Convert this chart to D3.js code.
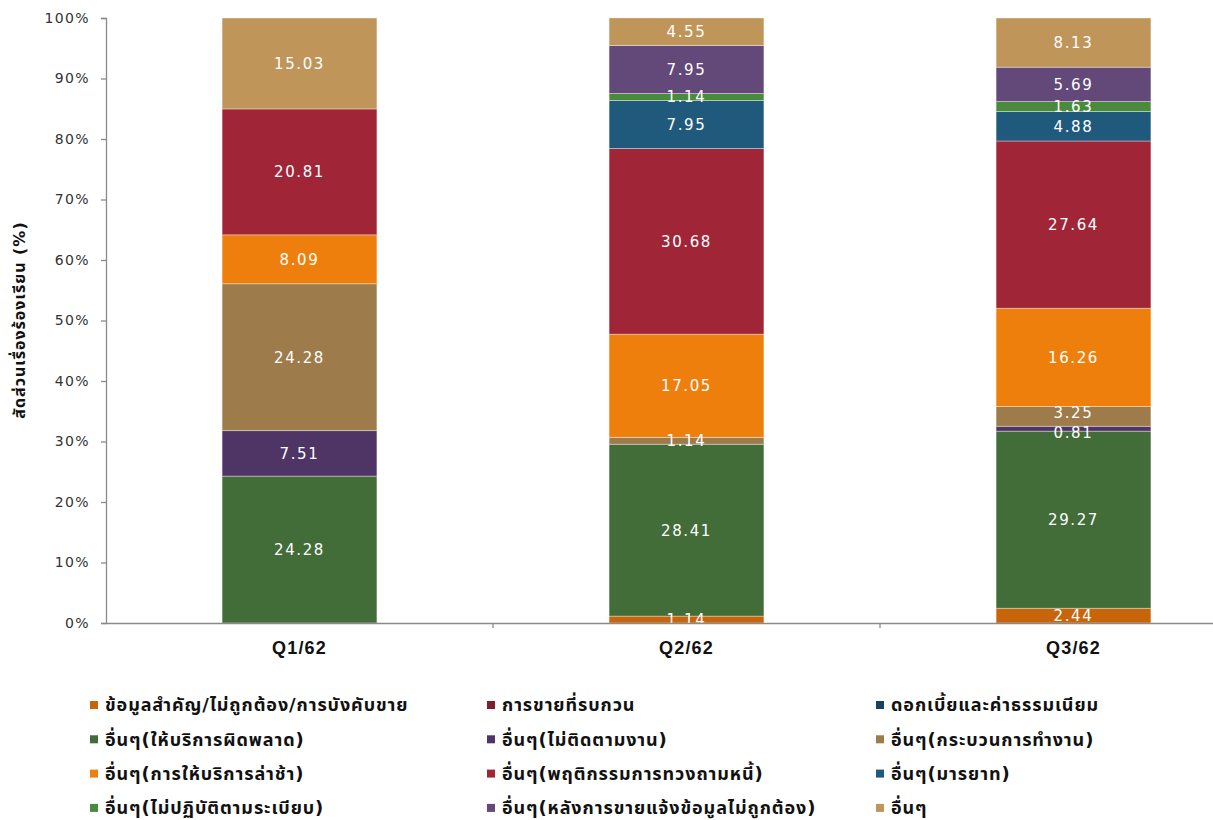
<!DOCTYPE html>
<html>
<head>
<meta charset="utf-8">
<script src="https://cdn.jsdelivr.net/npm/d3@7"></script>
<style>
  html, body { margin: 0; padding: 0; background: #fff; }
  svg { display: block; font-family: "DejaVu Sans", "Noto Sans Thai", "Noto Sans", sans-serif; }
</style>
</head>
<body>
<svg id="chart" width="1213" height="820"></svg>
<script>
// ---- data ----
const categories = ["Q1/62", "Q2/62", "Q3/62"];
const seriesNames = [
  "ข้อมูลสำคัญ/ไม่ถูกต้อง/การบังคับขาย",
  "การขายที่รบกวน",
  "ดอกเบี้ยและค่าธรรมเนียม",
  "อื่นๆ(ให้บริการผิดพลาด)",
  "อื่นๆ(ไม่ติดตามงาน)",
  "อื่นๆ(กระบวนการทำงาน)",
  "อื่นๆ(การให้บริการล่าช้า)",
  "อื่นๆ(พฤติกรรมการทวงถามหนี้)",
  "อื่นๆ(มารยาท)",
  "อื่นๆ(ไม่ปฏิบัติตามระเบียบ)",
  "อื่นๆ(หลังการขายแจ้งข้อมูลไม่ถูกต้อง)",
  "อื่นๆ"
];
const seriesColors = [
  "#c8650a", "#7f1d2b", "#1b3f5e", "#426c38", "#4f3566", "#9d7b4a",
  "#ef7f0d", "#a02637", "#1f5a7d", "#4a8a3c", "#62497a", "#c0955a"
];
// values per series: [Q1, Q2, Q3]
const v_info      = [0,     1.14,  2.44];
const v_disturb   = [0,     0,     0];
const v_interest  = [0,     0,     0];
const v_error     = [24.28, 28.41, 29.27];
const v_nofollow  = [7.51,  0,     0.81];
const v_process   = [24.28, 1.14,  3.25];
const v_delay     = [8.09,  17.05, 16.26];
const v_debt      = [20.81, 30.68, 27.64];
const v_manner    = [0,     7.95,  4.88];
const v_rules     = [0,     1.14,  1.63];
const v_aftersale = [0,     7.95,  5.69];
const v_other     = [15.03, 4.55,  8.13];
const seriesValues = [v_info, v_disturb, v_interest, v_error, v_nofollow, v_process,
                      v_delay, v_debt, v_manner, v_rules, v_aftersale, v_other];
const yTicks = [0, 10, 20, 30, 40, 50, 60, 70, 80, 90, 100];
const yTitle = "สัดส่วนเรื่องร้องเรียน (%)";

// ---- build table ----
const keys = seriesNames.map((d, i) => "s" + i);
const table = categories.map((c, ci) => {
  const row = { cat: c };
  keys.forEach((k, si) => row[k] = seriesValues[si][ci]);
  return row;
});
const stacked = d3.stack().keys(keys)(table);

const svg = d3.select("#chart");
const mLeft = 106, mRight = 1267, mTop = 18, mBottom = 623;

const x = d3.scaleBand().domain(categories).range([mLeft, mRight])
  .paddingInner(0.6).paddingOuter(0.3);
const y = d3.scaleLinear().domain([0, 100]).range([mBottom, mTop]);
const color = d3.scaleOrdinal().domain(keys).range(seriesColors);

// bars
const layer = svg.append("g").selectAll("g").data(stacked).join("g")
  .attr("fill", d => color(d.key));
layer.selectAll("rect").data(d => d.filter(p => p[1] - p[0] > 0)).join("rect")
  .attr("x", d => x(d.data.cat))
  .attr("width", x.bandwidth())
  .attr("y", d => y(d[1]))
  .attr("height", d => y(d[0]) - y(d[1]))
  .attr("stroke", "rgba(255,255,255,0.45)")
  .attr("stroke-width", 0.8);

// labels (with simple de-overlap per column)
const labels = svg.append("g");
const minGap = 20;
categories.forEach((c, ci) => {
  const items = [];
  stacked.forEach(s => {
    const p = s[ci];
    if (p[1] - p[0] > 0) items.push({ p, cy: (y(p[0]) + y(p[1])) / 2 });
  });
  items.sort((a, b) => b.cy - a.cy); // bottom to top
  for (let k = 1; k < items.length; k++) {
    const d = items[k - 1].cy - items[k].cy;
    if (d < minGap) {
      const shift = (minGap - d) / 2;
      items[k - 1].cy += shift;
      items[k].cy -= shift;
    }
  }
  items.forEach(it => {
    labels.append("text")
      .attr("x", x(c) + x.bandwidth() / 2)
      .attr("y", it.cy)
      .attr("dy", "0.36em")
      .attr("text-anchor", "middle")
      .attr("fill", "#fff")
      .attr("font-size", 15)
      .attr("letter-spacing", 1.6)
      .text(d3.format(".2f")(it.p[1] - it.p[0]));
  });
});

// y axis
const yAxis = svg.append("g").attr("transform", `translate(${mLeft},0)`)
  .call(d3.axisLeft(y).tickValues(yTicks).tickFormat(d => d + "%").tickSize(5).tickPadding(11));
yAxis.select(".domain").attr("stroke", "#8a8a8a").attr("stroke-width", 1.3);
yAxis.selectAll(".tick line").attr("stroke", "#8a8a8a").attr("stroke-width", 1.3);
yAxis.selectAll(".tick text").attr("font-size", 14).attr("fill", "#333")
  .attr("letter-spacing", 1.4).attr("font-family", "'DejaVu Sans', sans-serif");

// x axis
const xAxis = svg.append("g").attr("transform", `translate(0,${mBottom})`)
  .call(d3.axisBottom(x).tickSize(0).tickPadding(18));
xAxis.select(".domain").attr("stroke", "#8a8a8a").attr("stroke-width", 1.3);
xAxis.selectAll(".tick text").attr("font-size", 18).attr("font-weight", "bold")
  .attr("fill", "#111").attr("letter-spacing", 1.2);
const step = x.step();
const bounds = d3.range(1, categories.length).map(i => x(categories[i]) - (step - x.bandwidth()) / 2);
xAxis.selectAll("line.bound").data(bounds).join("line").attr("class", "bound")
  .attr("x1", d => d).attr("x2", d => d).attr("y1", 0).attr("y2", 5)
  .attr("stroke", "#8a8a8a").attr("stroke-width", 1.3);

// y title
svg.append("text")
  .attr("transform", `translate(25,320) rotate(-90)`)
  .attr("text-anchor", "middle")
  .attr("font-size", 16).attr("font-weight", "bold").attr("fill", "#111")
  .attr("letter-spacing", 1)
  .text(yTitle);

// legend
const colX = [90, 487, 876];
const rowY0 = 705, rowStep = 34.3;
const legend = svg.append("g");
seriesNames.forEach((name, i) => {
  const cx = colX[i % 3], cy = rowY0 + Math.floor(i / 3) * rowStep;
  const g = legend.append("g").attr("transform", `translate(${cx},${cy})`);
  g.append("rect").attr("x", 0).attr("y", -4).attr("width", 8).attr("height", 8)
    .attr("fill", seriesColors[i]);
  g.append("text").attr("x", 15).attr("dy", "0.36em")
    .attr("font-size", 18).attr("font-weight", "bold").attr("fill", "#111")
    .attr("letter-spacing", 0.9)
    .text(name);
});
</script>
</body>
</html>
